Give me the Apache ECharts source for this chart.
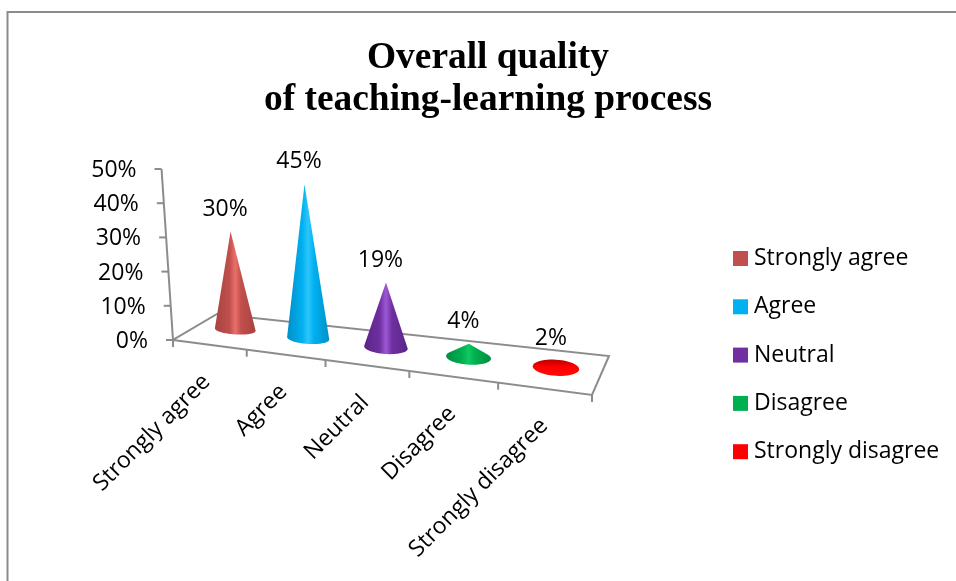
<!DOCTYPE html>
<html>
<head>
<meta charset="utf-8">
<style>
  html, body { margin: 0; padding: 0; background: #fff; }
  #chart { width: 956px; height: 581px; }
</style>
<script src="https://cdn.jsdelivr.net/npm/echarts@6/dist/echarts.min.js"></script>
</head>
<body>
<div id="chart"></div>
<script>
const categories = ['Strongly agree', 'Agree', 'Neutral', 'Disagree', 'Strongly disagree']
const values = [30, 45, 19, 4, 2]
const yTicks = [0, 10, 20, 30, 40, 50]
const colors = ['#c0504d', '#00b0f0', '#7030a0', '#00b050', '#ff0000']
const darkShades = ['#a84340', '#0090c8', '#5a2488', '#008f40', '#b80000']
const lightShades = ['#ec6f6a', '#2cc6fb', '#9c58d6', '#10c860', '#ff0c0c']

const FONT = 'Open Sans'
const FONT_SIZE = 23
const LINE = '#8c8c8c'
const GRID = { left: 173, top: 169, width: 419, height: 171 }
const fr = [592, 395]
const br = [609, 356]
const bl = [217, 314]
const fl = [GRID.left, GRID.top + GRID.height]

// floor position: u along the front edge, v towards the back edge
const lerp = (a, b, t) => [a[0] + (b[0] - a[0]) * t, a[1] + (b[1] - a[1]) * t]
const floorPoint = (u, v) => {
  const w = u - 0.15 * u * (1 - u) // bands get wider to the right
  return lerp(lerp(fl, fr, w), lerp(bl, br, w), v)
}
const toU = (x) => (x - GRID.left) / GRID.width
// verticals lean a little towards the middle of the floor
const lean = (u) => 0.067 - 0.135 * u
const heightScale = (u) => Math.min(1, 0.93 + 0.25 * u)

const lineEl = (a, b) => ({
  type: 'line',
  shape: { x1: a[0], y1: a[1], x2: b[0], y2: b[1] },
  style: { stroke: LINE, lineWidth: 2 }
})

const renderFloor = () => ({
  type: 'group',
  children: [
    {
      type: 'polygon',
      shape: { points: [fl, fr, br, bl] },
      style: { fill: '#fff', stroke: LINE, lineWidth: 2 }
    },
    lineEl(fl, [GRID.left - lean(0) * GRID.height, GRID.top])
  ]
})

const renderYTick = (params, api) => {
  const t = api.value(1)
  const y = api.coord([0, t])[1]
  const x = GRID.left - lean(0) * (fl[1] - y)
  return {
    type: 'group',
    children: [
      lineEl([x - 7, y], [x, y]),
      {
        type: 'text',
        style: {
          x: x - 25, y: y + 1.5, text: t + '%', fill: '#000',
          font: FONT_SIZE + 'px ' + FONT, align: 'right', verticalAlign: 'middle'
        }
      }
    ]
  }
}

const renderXTick = (params, api) => {
  const i = api.value(0)
  const band = api.size([1, 0])[0]
  const cx = api.coord([i, 0])[0]
  const a = floorPoint(toU(cx - band / 2), 0)
  const mid = floorPoint(toU(cx), 0)
  const children = [lineEl(a, [a[0], a[1] + 7])]
  if (i === categories.length - 1) {
    children.push(lineEl(fr, [fr[0], fr[1] + 7]))
  }
  children.push({
    type: 'text',
    x: mid[0] - 3 + 3 * toU(cx),
    y: mid[1] + 33.5,
    rotation: Math.PI / 4,
    style: {
      x: 0, y: 0, text: categories[i], fill: '#000',
      font: FONT_SIZE + 'px ' + FONT, align: 'right', verticalAlign: 'middle'
    }
  })
  return { type: 'group', children: children }
}

const renderCone = (index) => (params, api) => {
  const cx = api.coord([api.value(0), 0])[0]
  const u = toU(cx)
  const base = floorPoint(u, 0.56)
  base[0] += 3 * (1 - u)
  const rise = (api.coord([0, 0])[1] - api.coord([0, api.value(1)])[1]) * heightScale(u)
  const a = 20 + 3.5 * u
  const b = 4.5 + 4 * u
  const apex = [base[0] - lean(u) * rise * 0.9, base[1] - rise]
  const flat = rise <= b

  // outline: apex, then the visible part of the base ellipse
  const pts = []
  const start = flat ? -Math.PI / 2 : Math.asin(-b / rise)
  if (!flat) pts.push(apex)
  const steps = 48
  for (let s = 0; s <= steps; s++) {
    const t = flat
      ? 2 * Math.PI * s / steps
      : start + (Math.PI - 2 * start) * s / steps
    const dx = a * Math.cos(t)
    pts.push([base[0] + dx, base[1] + b * Math.sin(t) + dx * 0.06])
  }
  const fill = flat
    ? new echarts.graphic.LinearGradient(0, 0, 0, 1, [
        { offset: 0, color: darkShades[index] },
        { offset: 0.45, color: colors[index] },
        { offset: 1, color: lightShades[index] }
      ])
    : new echarts.graphic.LinearGradient(0, 0, 1, 0, [
        { offset: 0, color: darkShades[index] },
        { offset: 0.36, color: colors[index] },
        { offset: 0.5, color: lightShades[index] },
        { offset: 0.64, color: colors[index] },
        { offset: 1, color: darkShades[index] }
      ])
  return {
    type: 'group',
    children: [
      { type: 'polygon', shape: { points: pts }, style: { fill: fill } },
      {
        type: 'text',
        style: {
          x: apex[0] - 5.5, y: apex[1] - 22.5, text: api.value(1) + '%', fill: '#000',
          font: FONT_SIZE + 'px ' + FONT, align: 'center', verticalAlign: 'middle'
        }
      }
    ]
  }
}

const coneSeries = categories.map((name, i) => ({
  name: name,
  type: 'custom',
  coordinateSystem: 'cartesian2d',
  clip: false,
  z: 5,
  silent: true,
  itemStyle: { color: colors[i] },
  data: [[i, values[i]]],
  renderItem: renderCone(i)
}))

const chart = echarts.init(document.getElementById('chart'))
chart.setOption({
  animation: false,
  backgroundColor: '#fff',
  title: {
    text: 'Overall quality\nof teaching-learning process',
    left: 483,
    top: 32,
    textAlign: 'center',
    textStyle: {
      fontFamily: 'Liberation Serif',
      fontWeight: 'bold',
      fontSize: 37.4,
      lineHeight: 42,
      color: '#000'
    }
  },
  legend: {
    orient: 'vertical',
    left: 733,
    top: 246,
    padding: 0,
    itemWidth: 15,
    itemHeight: 15,
    itemGap: 23.3,
    icon: 'rect',
    data: categories,
    textStyle: { fontFamily: FONT, fontSize: FONT_SIZE, color: '#000', lineHeight: 25, padding: [0, 0, 0, 1] }
  },
  grid: GRID,
  xAxis: { type: 'category', data: categories, show: false },
  yAxis: { type: 'value', min: 0, max: 50, interval: 10, show: false },
  graphic: [
    {
      type: 'polyline',
      silent: true,
      shape: { points: [[7.5, 581], [7.5, 12], [956, 12]] },
      style: { fill: 'none', stroke: LINE, lineWidth: 2 }
    }
  ],
  series: [
    {
      type: 'custom',
      coordinateSystem: 'cartesian2d',
      clip: false,
      z: 2,
      silent: true,
      data: [[0, 0]],
      renderItem: renderFloor
    },
    {
      type: 'custom',
      coordinateSystem: 'cartesian2d',
      clip: false,
      z: 3,
      silent: true,
      data: yTicks.map((t) => [0, t]),
      renderItem: renderYTick
    },
    {
      type: 'custom',
      coordinateSystem: 'cartesian2d',
      clip: false,
      z: 3,
      silent: true,
      data: categories.map((c, i) => [i, 0]),
      renderItem: renderXTick
    }
  ].concat(coneSeries)
})
</script>
</body>
</html>
